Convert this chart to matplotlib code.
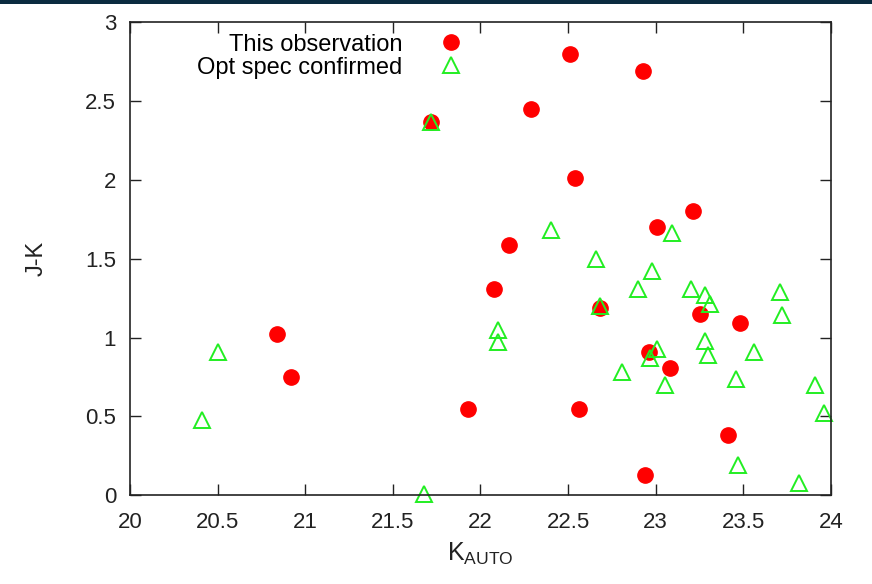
import matplotlib
matplotlib.use("Agg")
import matplotlib.pyplot as plt
from matplotlib.patches import Rectangle

# red filled circles: this observation
obs_k = [20.84, 20.92, 21.93, 21.72, 22.08, 22.16, 22.29, 22.51, 22.54, 22.56,
         22.68, 22.93, 22.96, 22.94, 23.01, 23.08, 23.21, 23.25, 23.48, 23.41]
obs_jk = [1.02, 0.75, 0.55, 2.37, 1.31, 1.59, 2.45, 2.80, 2.01, 0.55,
          1.19, 2.69, 0.91, 0.13, 1.70, 0.81, 1.80, 1.15, 1.09, 0.38]

# green open triangles: optically spectroscopically confirmed
opt_k = [20.50, 20.41, 21.68, 21.72, 22.10, 22.10, 22.40, 22.66, 22.68, 22.90,
         22.98, 22.97, 23.01, 22.81, 23.05, 23.09, 23.20, 23.28, 23.31, 23.28,
         23.30, 23.56, 23.46, 23.47, 23.71, 23.72, 23.91, 23.96, 23.82]
opt_jk = [0.91, 0.48, 0.01, 2.37, 1.05, 0.97, 1.68, 1.50, 1.20, 1.31,
          1.42, 0.87, 0.93, 0.78, 0.70, 1.66, 1.31, 1.27, 1.21, 0.98,
          0.89, 0.91, 0.74, 0.19, 1.29, 1.14, 0.70, 0.52, 0.08]

xticks = [20, 20.5, 21, 21.5, 22, 22.5, 23, 23.5, 24]
yticks = [0, 0.5, 1, 1.5, 2, 2.5, 3]

plt.rcParams["font.family"] = ["Liberation Sans", "DejaVu Sans"]

fig = plt.figure(figsize=(8.72, 5.84), dpi=100)
ax = fig.add_axes([0.149, 0.152, 0.804, 0.810])

# slide header strip
fig.patches.append(Rectangle((0, 1 - 4 / 584), 1, 4 / 584, transform=fig.transFigure,
                             facecolor="#0b2b40", edgecolor="none", zorder=0))

ax.plot(obs_k, obs_jk, ls="none", marker="o", ms=11, mfc="#ff0000", mec="#ff0000",
        label="This observation")
ax.plot(opt_k, opt_jk, ls="none", marker="^", ms=11, mfc="none", mec="#22ee22",
        mew=1.4, label="Opt spec confirmed", clip_on=False)

ax.set_xlim(20, 24)
ax.set_ylim(0, 3)
ax.set_xticks(xticks)
ax.set_xticklabels([f"{t:g}" for t in xticks])
ax.set_yticks(yticks)
ax.set_yticklabels([f"{t:g}" for t in yticks])
ax.tick_params(direction="in", length=8, width=1, top=True, right=True,
               labelsize=16, colors="#222222")
ax.tick_params(axis="y", pad=10)
ax.tick_params(axis="x", pad=12)
for s in ax.spines.values():
    s.set_linewidth(1.2)
    s.set_color("#222222")

ax.set_xlabel(r"K$_{\mathregular{AUTO}}$", fontsize=18, color="#222222", labelpad=6)
ax.set_ylabel("J-K", fontsize=17, color="#222222", labelpad=27)

ax.legend(loc="upper right", bbox_to_anchor=(0.491, 0.976), frameon=False,
          markerfirst=False, fontsize=17, handletextpad=1.05, labelspacing=0.05,
          borderaxespad=0, borderpad=0)

fig.savefig("out.png", dpi=100)
